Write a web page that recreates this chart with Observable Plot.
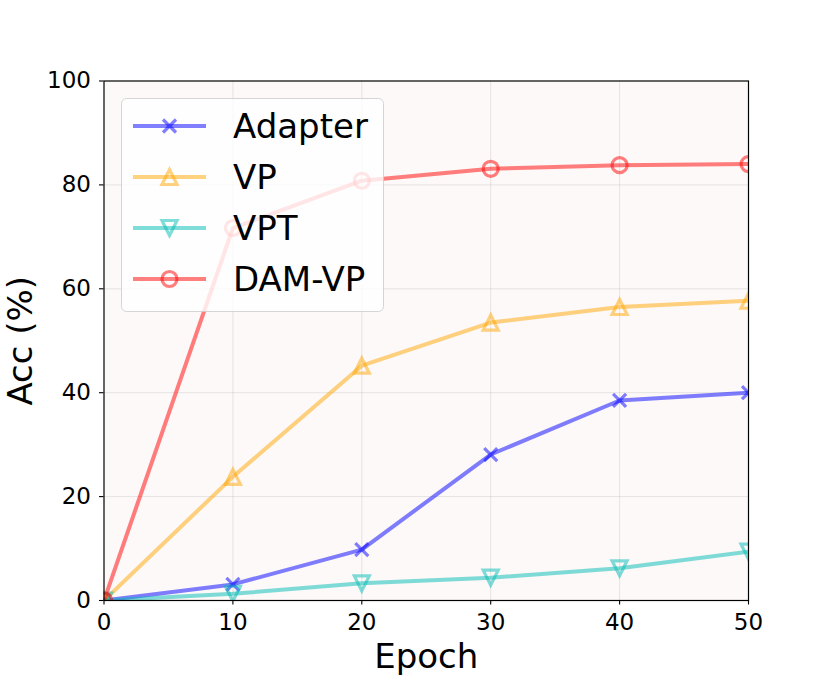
<!DOCTYPE html>
<html><head><meta charset="utf-8">
<script src="https://cdn.jsdelivr.net/npm/d3@7"></script>
<script src="https://cdn.jsdelivr.net/npm/@observablehq/plot@0.6"></script>
<style>
body{margin:0;background:#fff;font-family:"DejaVu Sans",sans-serif;}
#wrap{position:relative;width:830px;height:675px;}
#legend{position:absolute;left:121px;top:98px;}
</style>
</head><body><div id="wrap"></div>
<script>
// ---- data ----
const epochs = [0, 10, 20, 30, 40, 50];
const seriesNames = ["Adapter", "VP", "VPT", "DAM-VP"];
const adapterAcc = [0, 3.1, 9.8, 28.1, 38.5, 40.0];
const vpAcc = [0, 23.8, 45.2, 53.5, 56.5, 57.7];
const vptAcc = [0, 1.3, 3.3, 4.4, 6.2, 9.4];
const damvpAcc = [0, 71.7, 80.8, 83.1, 83.8, 84.0];
const seriesColors = ["#0000ff", "#ffa500", "#00bcb4", "#ff0000"];
const xTicks = [0, 10, 20, 30, 40, 50];
const yTicks = [0, 20, 40, 60, 80, 100];
const xLabel = "Epoch";
const yLabel = "Acc (%)";

const seriesValues = [adapterAcc, vpAcc, vptAcc, damvpAcc];

// ---- marker symbols (matplotlib-like, half-width = r) ----
const rOf = size => Math.sqrt(size / Math.PI);
const symTimes = {draw(c, size){const r = rOf(size); c.moveTo(-r,-r); c.lineTo(r,r); c.moveTo(-r,r); c.lineTo(r,-r);}};
const symTriUp = {draw(c, size){const r = rOf(size); c.moveTo(0,-r); c.lineTo(r,r); c.lineTo(-r,r); c.closePath();}};
const symTriDown = {draw(c, size){const r = rOf(size); c.moveTo(0,r); c.lineTo(r,-r); c.lineTo(-r,-r); c.closePath();}};
const symCircle = {draw(c, size){const r = rOf(size); c.moveTo(r,0); c.arc(0,0,r,0,2*Math.PI); c.closePath();}};
const seriesSymbols = [symTimes, symTriUp, symTriDown, symCircle];
const seriesR = [6.5, 7.5, 7.5, 7.5];

const rows = [];
seriesNames.forEach((name, i) => {
  epochs.forEach((e, j) => rows.push({series: name, idx: i, epoch: e, acc: seriesValues[i][j]}));
});

const font = "DejaVu Sans";
const marks = [
  Plot.frame({fill: "#fdf9f8", stroke: null}),
  Plot.gridX(xTicks.slice(1, -1), {stroke: "#b0b0b0", strokeOpacity: 0.3, strokeWidth: 1}),
  Plot.gridY(yTicks.slice(1, -1), {stroke: "#b0b0b0", strokeOpacity: 0.3, strokeWidth: 1}),
];
seriesNames.forEach((name, i) => {
  const data = rows.filter(d => d.idx === i);
  marks.push(Plot.line(data, {x: "epoch", y: "acc", stroke: seriesColors[i], strokeWidth: 4, strokeOpacity: 0.5, clip: "frame"}));
  marks.push(Plot.dot(data, {x: "epoch", y: "acc", symbol: seriesSymbols[i], r: seriesR[i], fill: "none",
    stroke: seriesColors[i], strokeWidth: 3.2, strokeOpacity: 0.5, clip: "frame"}));
});
marks.push(
  Plot.frame({stroke: "#000", strokeWidth: 1.2}),
  Plot.axisX(xTicks, {tickSize: 4.5, tickPadding: 8.5, fontSize: 23, stroke: "#000", strokeWidth: 1.1, label: null}),
  Plot.axisY(yTicks, {tickSize: 4.5, tickPadding: 8.5, fontSize: 23, stroke: "#000", strokeWidth: 1.1, label: null}),
  Plot.text([xLabel], {frameAnchor: "bottom", textAnchor: "middle", dy: 56.5, fontSize: 34, lineAnchor: "middle", fill: "#000"}),
  Plot.text([yLabel], {frameAnchor: "left", textAnchor: "middle", dx: -83, rotate: -90, fontSize: 34, lineAnchor: "middle", fill: "#000"})
);

const chart = Plot.plot({
  width: 830, height: 675,
  marginTop: 80.5, marginBottom: 75, marginLeft: 103.5, marginRight: 82,
  style: {fontFamily: font, background: "#fff", color: "#000", overflow: "visible"},
  x: {domain: [0, 50]},
  y: {domain: [0, 100]},
  marks
});
document.getElementById("wrap").appendChild(chart);

// ---- legend overlay ----
const lw = 262, lh = 213;
const leg = d3.select("#wrap").append("svg").attr("id", "legend")
  .attr("width", lw + 2).attr("height", lh + 2);
leg.append("rect").attr("x", 0.5).attr("y", 0.5).attr("width", lw).attr("height", lh)
  .attr("rx", 5).attr("fill", "#ffffff").attr("fill-opacity", 0.8)
  .attr("stroke", "#cccccc").attr("stroke-opacity", 0.8).attr("stroke-width", 1);
seriesNames.forEach((name, i) => {
  const cy = 28 + i * 51;
  const g = leg.append("g");
  g.append("line").attr("x1", 12).attr("x2", 85).attr("y1", cy).attr("y2", cy)
    .attr("stroke", seriesColors[i]).attr("stroke-width", 4).attr("stroke-opacity", 0.5);
  const r = seriesR[i];
  g.append("path").attr("transform", `translate(48.5,${cy})`)
    .attr("d", d3.symbol(seriesSymbols[i], Math.PI * r * r)())
    .attr("fill", "none").attr("stroke", seriesColors[i]).attr("stroke-width", 3.2).attr("stroke-opacity", 0.5);
  g.append("text").attr("x", 112).attr("y", cy + 12).attr("font-size", 34)
    .attr("font-family", font).attr("fill", "#000").text(name);
});
</script>
</body></html>
